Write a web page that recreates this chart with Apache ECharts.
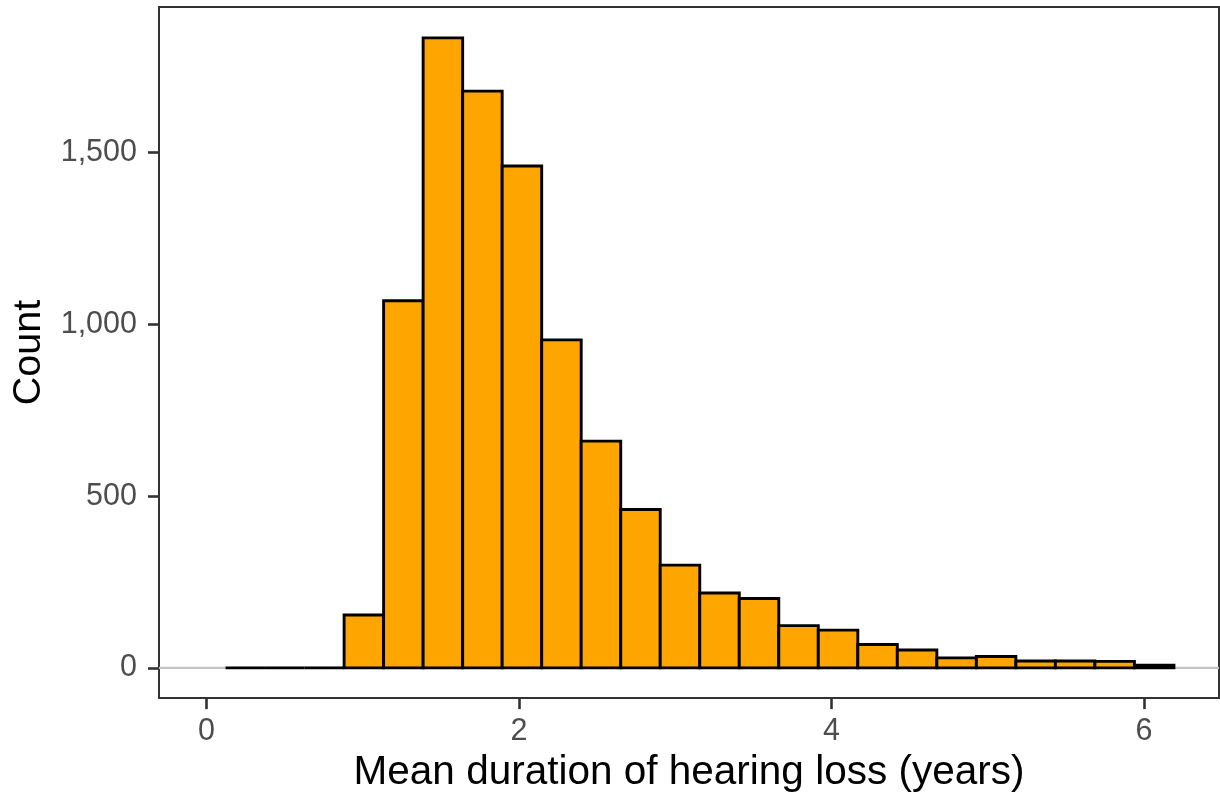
<!DOCTYPE html>
<html>
<head>
<meta charset="utf-8">
<script src="https://cdn.jsdelivr.net/npm/echarts@6/dist/echarts.min.js"></script>
<style>
  html, body { margin: 0; padding: 0; background: #ffffff; }
  #chart { width: 1220px; height: 798px; }
</style>
</head>
<body>
<div id="chart"></div>
<script>
// Histogram of mean hearing-loss duration: fixed-width bins
const binStart = 0.122;     // left edge of the first bin (years)
const binWidth = 0.2529;    // width of every bin (years)
const counts = [0, 0, 0, 154, 1069, 1834, 1679, 1461, 955, 660, 461, 299,
                218, 202, 123, 110, 68, 52, 29, 33, 20, 20, 19, 8];
const xTicks = [0, 2, 4, 6];
const yTicks = [0, 500, 1000, 1500];
const xRange = [-0.304, 6.48];
const yRange = [-88, 1924];

const binData = counts.map((c, i) => [binStart + i * binWidth, binStart + (i + 1) * binWidth, c]);

const FONT = 'Liberation Sans, Arial, sans-serif';
const chart = echarts.init(document.getElementById('chart'), null, { renderer: 'canvas' });

chart.setOption({
  animation: false,
  backgroundColor: '#ffffff',
  grid: {
    left: 159, right: 1, top: 7, bottom: 95,
    show: true, borderColor: '#333333', borderWidth: 2, backgroundColor: 'transparent'
  },
  xAxis: {
    type: 'value',
    min: xRange[0], max: xRange[1],
    name: 'Mean duration of hearing loss (years)',
    nameLocation: 'middle', nameGap: 51,
    nameTextStyle: { fontFamily: FONT, fontSize: 40.5, color: '#000000' },
    axisLine: { show: false, onZero: false },
    axisTick: { show: true, customValues: xTicks, length: 11, lineStyle: { color: '#333333', width: 2.6 } },
    axisLabel: { customValues: xTicks, fontFamily: FONT, fontSize: 30.5, color: '#4d4d4d', margin: 18 },
    splitLine: { show: false }
  },
  yAxis: {
    type: 'value',
    min: yRange[0], max: yRange[1],
    name: 'Count',
    nameLocation: 'middle', nameGap: 110, nameRotate: 90,
    nameTextStyle: { fontFamily: FONT, fontSize: 39.5, color: '#000000' },
    axisLine: { show: false, onZero: false },
    axisTick: { show: true, customValues: yTicks, length: 11, lineStyle: { color: '#333333', width: 2.6 } },
    axisLabel: {
      customValues: yTicks, fontFamily: FONT, fontSize: 30.5, color: '#4d4d4d', margin: 22,
      formatter: v => Number(v).toLocaleString('en-US')
    },
    splitLine: { show: false }
  },
  series: [
    {
      // reference line at zero count
      type: 'line',
      data: [[xRange[0], 0], [xRange[1], 0]],
      symbol: 'none', silent: true, z: 1,
      lineStyle: { color: '#c4c4c4', width: 2.4 }
    },
    {
      type: 'custom',
      z: 2,
      data: binData,
      encode: { x: [0, 1], y: 2 },
      renderItem: function (params, api) {
        const x0 = api.value(0), x1 = api.value(1), c = api.value(2);
        const pTop = api.coord([x0, c]);
        const pBot = api.coord([x1, 0]);
        return {
          type: 'rect',
          shape: { x: pTop[0], y: pTop[1], width: pBot[0] - pTop[0], height: pBot[1] - pTop[1] },
          style: { fill: '#FFA500', stroke: '#000000', lineWidth: 2.9 }
        };
      }
    }
  ]
});
</script>
</body>
</html>
